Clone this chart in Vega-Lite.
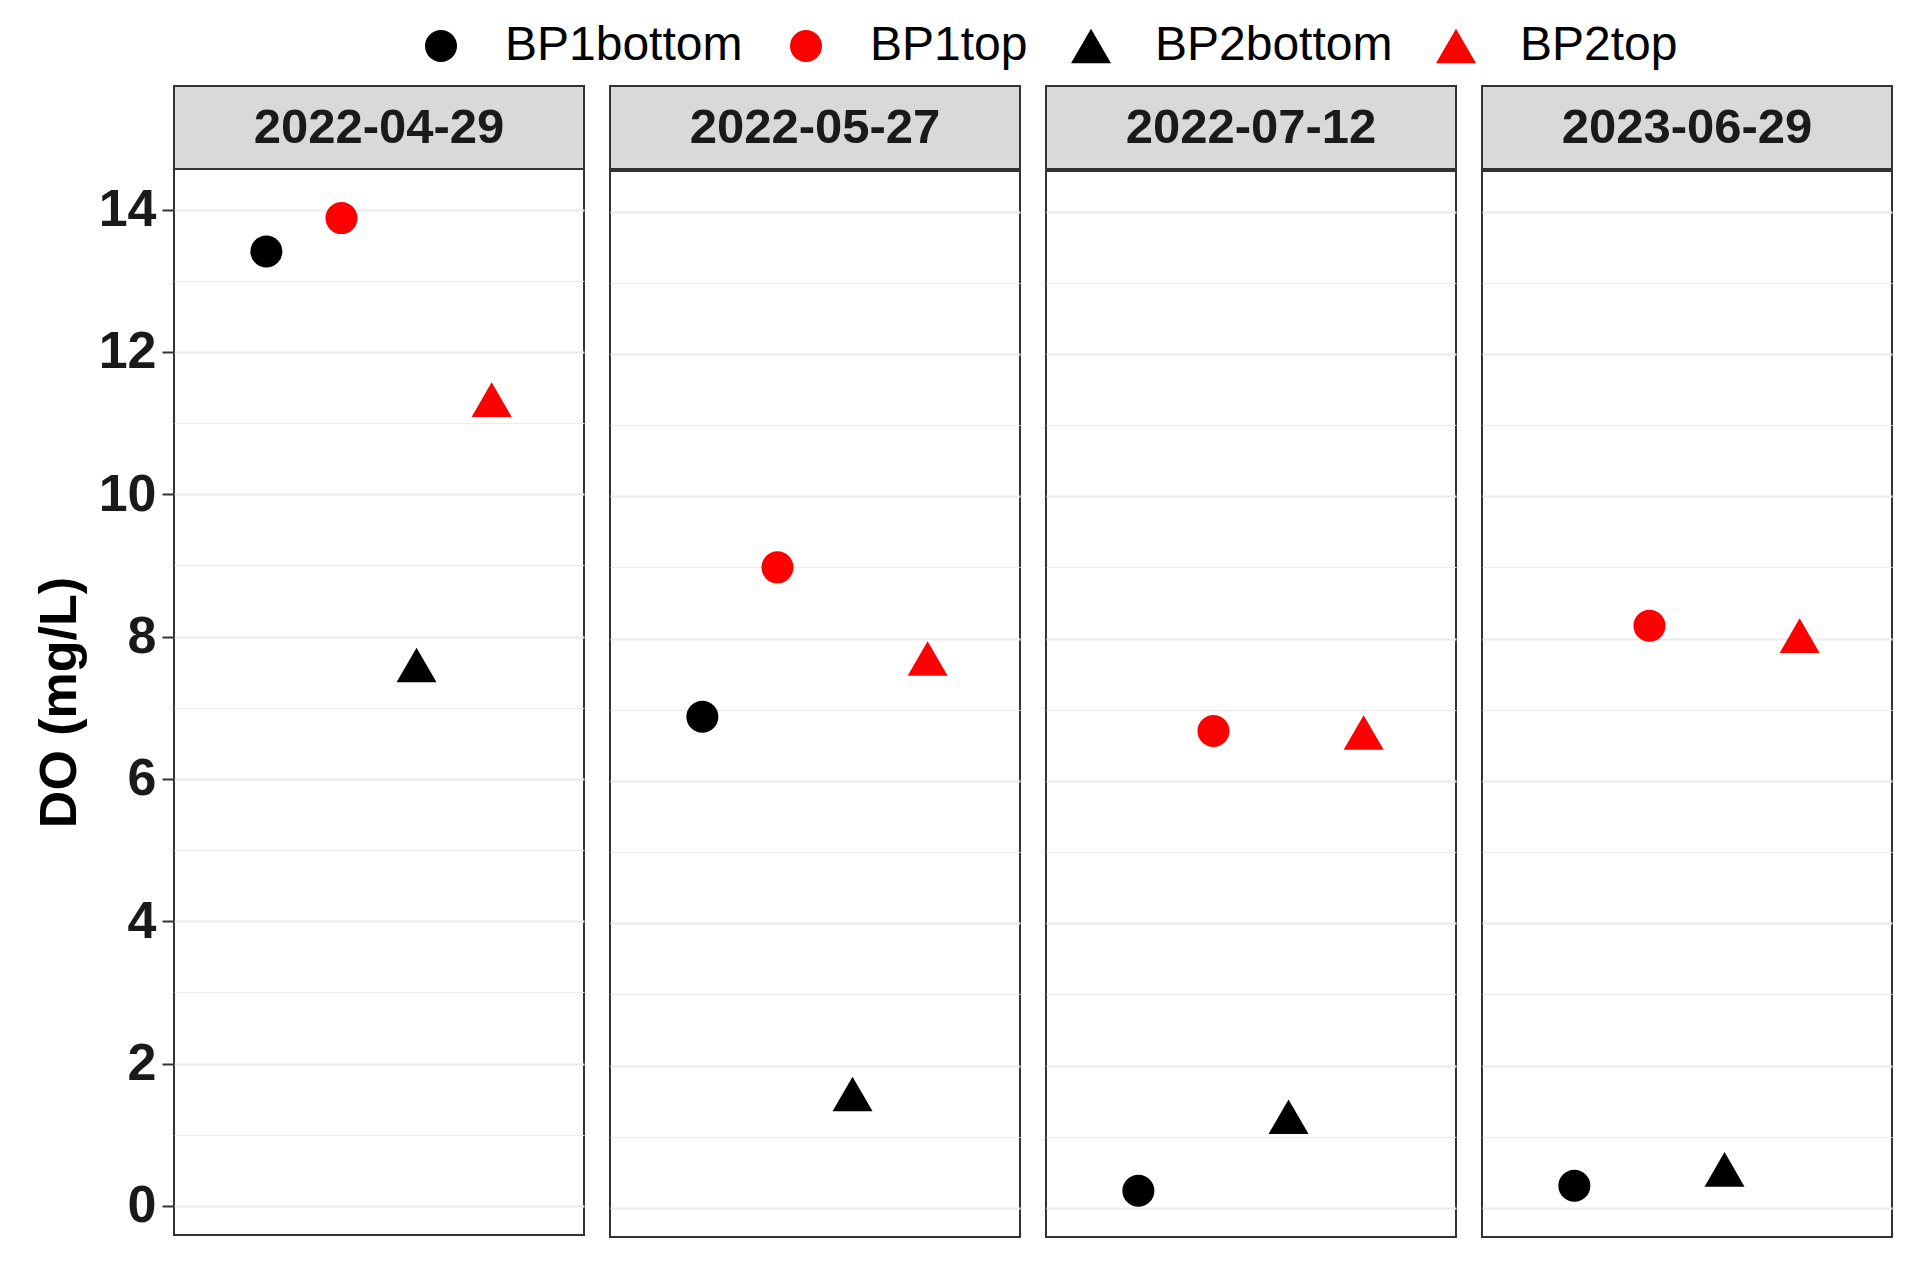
{
  "$schema": "https://vega.github.io/schema/vega-lite/v6.json",
  "background": "white",
  "padding": {"left": 32, "top": 22, "right": 10, "bottom": 10},
  "data": {"values": [
    {"date": "2022-04-29", "site": "BP1bottom", "DO": 13.41},
    {"date": "2022-04-29", "site": "BP1top", "DO": 13.88},
    {"date": "2022-04-29", "site": "BP2bottom", "DO": 7.6},
    {"date": "2022-04-29", "site": "BP2top", "DO": 11.33},
    {"date": "2022-05-27", "site": "BP1bottom", "DO": 6.9},
    {"date": "2022-05-27", "site": "BP1top", "DO": 9.0},
    {"date": "2022-05-27", "site": "BP2bottom", "DO": 1.6},
    {"date": "2022-05-27", "site": "BP2top", "DO": 7.72},
    {"date": "2022-07-12", "site": "BP1bottom", "DO": 0.24},
    {"date": "2022-07-12", "site": "BP1top", "DO": 6.7},
    {"date": "2022-07-12", "site": "BP2bottom", "DO": 1.28},
    {"date": "2022-07-12", "site": "BP2top", "DO": 6.68},
    {"date": "2023-06-29", "site": "BP1bottom", "DO": 0.31},
    {"date": "2023-06-29", "site": "BP1top", "DO": 8.18},
    {"date": "2023-06-29", "site": "BP2bottom", "DO": 0.54},
    {"date": "2023-06-29", "site": "BP2top", "DO": 8.04}
  ]},
  "config": {
    "font": "Liberation Sans",
    "view": {"stroke": "#333333", "strokeWidth": 2},
    "axisY": {
      "domain": false,
      "grid": true,
      "gridColor": "#ebebeb",
      "gridWidth": {"condition": {"test": "datum.value % 2 !== 0", "value": 1}, "value": 2},
      "tickColor": "#333333",
      "tickWidth": 2,
      "tickSize": 12,
      "tickOpacity": {"condition": {"test": "datum.value % 2 !== 0", "value": 0}, "value": 1},
      "labelExpr": "datum.value % 2 === 0 ? datum.label : ''",
      "format": "d",
      "labelFont": "Liberation Sans",
      "labelFontSize": 52,
      "labelFontWeight": "bold",
      "labelColor": "#1a1a1a",
      "labelPadding": 6,
      "titleFont": "Liberation Sans",
      "titleFontSize": 52,
      "titleFontWeight": "bold",
      "titleColor": "black",
      "titlePadding": 12
    }
  },
  "spacing": 24,
  "hconcat": [
    {
      "spacing": 0,
      "bounds": "flush",
      "vconcat": [
        {
          "width": 410, "height": 83,
          "view": {"fill": "#d9d9d9", "stroke": "#333333", "strokeWidth": 2},
          "transform": [{"filter": "datum.date === '2022-04-29' && datum.site === 'BP1bottom'"}],
          "mark": {"type": "text", "fontWeight": "bold", "fontSize": 49, "color": "#1a1a1a", "baseline": "middle", "align": "center"},
          "encoding": {"text": {"field": "date", "type": "nominal"}}
        },
        {
          "width": 410, "height": 1066,
          "view": {"fill": "white", "stroke": "#333333", "strokeWidth": 2},
          "transform": [{"filter": "datum.date === '2022-04-29'"}],
          "mark": {"type": "point", "filled": true, "opacity": 1, "strokeWidth": 0},
          "encoding": {
            "x": {"field": "site", "type": "nominal", "scale": {"type": "band", "paddingInner": 0, "paddingOuter": 0.73, "domain": ["BP1bottom", "BP1top", "BP2bottom", "BP2top"]}, "axis": null},
            "y": {"field": "DO", "type": "quantitative", "scale": {"domain": [-0.41, 14.57], "nice": false, "zero": false}, "axis": {"title": "DO (mg/L)", "values": [0,1,2,3,4,5,6,7,8,9,10,11,12,13,14]}},
            "color": {"field": "site", "type": "nominal", "scale": {"domain": ["BP1bottom", "BP1top", "BP2bottom", "BP2top"], "range": ["#000000", "#ff0000", "#000000", "#ff0000"]},
              "legend": {"title": null, "orient": "none", "direction": "horizontal", "legendX": 243, "legendY": -64, "labelFontSize": 48, "labelFont": "Liberation Sans", "labelColor": "black", "labelLimit": 500, "labelOffset": 40, "columnPadding": 39, "symbolStrokeWidth": 0, "padding": 0}},
            "shape": {"field": "site", "type": "nominal", "scale": {"domain": ["BP1bottom", "BP1top", "BP2bottom", "BP2top"], "range": ["circle", "circle", "triangle-up", "triangle-up"]}},
            "size": {"field": "site", "type": "nominal", "scale": {"type": "ordinal", "domain": ["BP1bottom", "BP1top", "BP2bottom", "BP2top"], "range": [1024, 1024, 1600, 1600]}}
          }
        }
      ]
    },
    {
      "spacing": 0,
      "vconcat": [
        {
          "width": 410, "height": 83,
          "view": {"fill": "#d9d9d9", "stroke": "#333333", "strokeWidth": 2},
          "transform": [{"filter": "datum.date === '2022-05-27' && datum.site === 'BP1bottom'"}],
          "mark": {"type": "text", "fontWeight": "bold", "fontSize": 49, "color": "#1a1a1a", "baseline": "middle", "align": "center"},
          "encoding": {"text": {"field": "date", "type": "nominal"}}
        },
        {
          "width": 410, "height": 1066,
          "view": {"fill": "white", "stroke": "#333333", "strokeWidth": 2},
          "transform": [{"filter": "datum.date === '2022-05-27'"}],
          "mark": {"type": "point", "filled": true, "opacity": 1, "strokeWidth": 0},
          "encoding": {
            "x": {"field": "site", "type": "nominal", "scale": {"type": "band", "paddingInner": 0, "paddingOuter": 0.73, "domain": ["BP1bottom", "BP1top", "BP2bottom", "BP2top"]}, "axis": null},
            "y": {"field": "DO", "type": "quantitative", "scale": {"domain": [-0.41, 14.57], "nice": false, "zero": false}, "axis": {"title": null, "labels": false, "ticks": false, "values": [0,1,2,3,4,5,6,7,8,9,10,11,12,13,14]}},
            "color": {"field": "site", "type": "nominal", "scale": {"domain": ["BP1bottom", "BP1top", "BP2bottom", "BP2top"], "range": ["#000000", "#ff0000", "#000000", "#ff0000"]}},
            "shape": {"field": "site", "type": "nominal", "scale": {"domain": ["BP1bottom", "BP1top", "BP2bottom", "BP2top"], "range": ["circle", "circle", "triangle-up", "triangle-up"]}},
            "size": {"field": "site", "type": "nominal", "scale": {"type": "ordinal", "domain": ["BP1bottom", "BP1top", "BP2bottom", "BP2top"], "range": [1024, 1024, 1600, 1600]}}
          }
        }
      ]
    },
    {
      "spacing": 0,
      "vconcat": [
        {
          "width": 410, "height": 83,
          "view": {"fill": "#d9d9d9", "stroke": "#333333", "strokeWidth": 2},
          "transform": [{"filter": "datum.date === '2022-07-12' && datum.site === 'BP1bottom'"}],
          "mark": {"type": "text", "fontWeight": "bold", "fontSize": 49, "color": "#1a1a1a", "baseline": "middle", "align": "center"},
          "encoding": {"text": {"field": "date", "type": "nominal"}}
        },
        {
          "width": 410, "height": 1066,
          "view": {"fill": "white", "stroke": "#333333", "strokeWidth": 2},
          "transform": [{"filter": "datum.date === '2022-07-12'"}],
          "mark": {"type": "point", "filled": true, "opacity": 1, "strokeWidth": 0},
          "encoding": {
            "x": {"field": "site", "type": "nominal", "scale": {"type": "band", "paddingInner": 0, "paddingOuter": 0.73, "domain": ["BP1bottom", "BP1top", "BP2bottom", "BP2top"]}, "axis": null},
            "y": {"field": "DO", "type": "quantitative", "scale": {"domain": [-0.41, 14.57], "nice": false, "zero": false}, "axis": {"title": null, "labels": false, "ticks": false, "values": [0,1,2,3,4,5,6,7,8,9,10,11,12,13,14]}},
            "color": {"field": "site", "type": "nominal", "scale": {"domain": ["BP1bottom", "BP1top", "BP2bottom", "BP2top"], "range": ["#000000", "#ff0000", "#000000", "#ff0000"]}},
            "shape": {"field": "site", "type": "nominal", "scale": {"domain": ["BP1bottom", "BP1top", "BP2bottom", "BP2top"], "range": ["circle", "circle", "triangle-up", "triangle-up"]}},
            "size": {"field": "site", "type": "nominal", "scale": {"type": "ordinal", "domain": ["BP1bottom", "BP1top", "BP2bottom", "BP2top"], "range": [1024, 1024, 1600, 1600]}}
          }
        }
      ]
    },
    {
      "spacing": 0,
      "vconcat": [
        {
          "width": 410, "height": 83,
          "view": {"fill": "#d9d9d9", "stroke": "#333333", "strokeWidth": 2},
          "transform": [{"filter": "datum.date === '2023-06-29' && datum.site === 'BP1bottom'"}],
          "mark": {"type": "text", "fontWeight": "bold", "fontSize": 49, "color": "#1a1a1a", "baseline": "middle", "align": "center"},
          "encoding": {"text": {"field": "date", "type": "nominal"}}
        },
        {
          "width": 410, "height": 1066,
          "view": {"fill": "white", "stroke": "#333333", "strokeWidth": 2},
          "transform": [{"filter": "datum.date === '2023-06-29'"}],
          "mark": {"type": "point", "filled": true, "opacity": 1, "strokeWidth": 0},
          "encoding": {
            "x": {"field": "site", "type": "nominal", "scale": {"type": "band", "paddingInner": 0, "paddingOuter": 0.73, "domain": ["BP1bottom", "BP1top", "BP2bottom", "BP2top"]}, "axis": null},
            "y": {"field": "DO", "type": "quantitative", "scale": {"domain": [-0.41, 14.57], "nice": false, "zero": false}, "axis": {"title": null, "labels": false, "ticks": false, "values": [0,1,2,3,4,5,6,7,8,9,10,11,12,13,14]}},
            "color": {"field": "site", "type": "nominal", "scale": {"domain": ["BP1bottom", "BP1top", "BP2bottom", "BP2top"], "range": ["#000000", "#ff0000", "#000000", "#ff0000"]}},
            "shape": {"field": "site", "type": "nominal", "scale": {"domain": ["BP1bottom", "BP1top", "BP2bottom", "BP2top"], "range": ["circle", "circle", "triangle-up", "triangle-up"]}},
            "size": {"field": "site", "type": "nominal", "scale": {"type": "ordinal", "domain": ["BP1bottom", "BP1top", "BP2bottom", "BP2top"], "range": [1024, 1024, 1600, 1600]}}
          }
        }
      ]
    }
  ]
}
